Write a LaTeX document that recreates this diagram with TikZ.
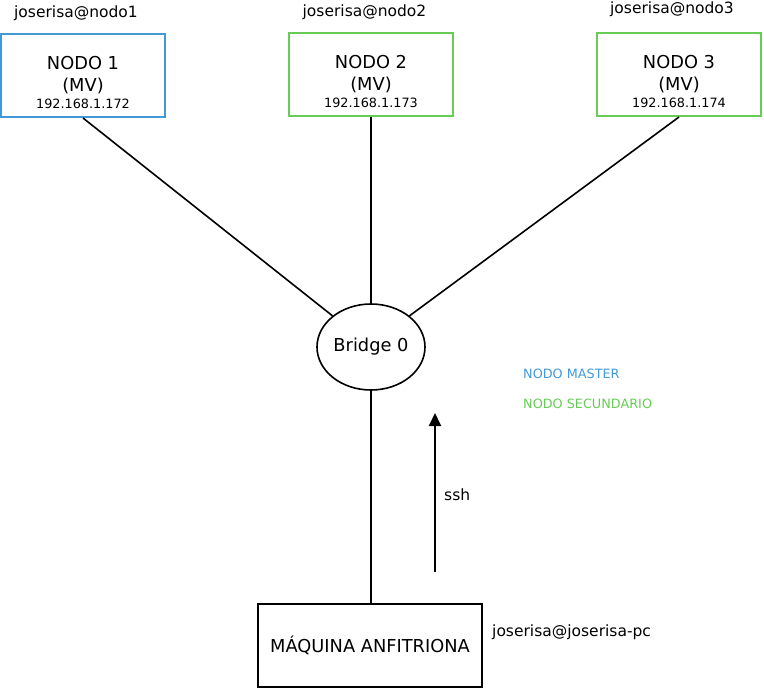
\documentclass[tikz,border=0pt]{standalone}
\usepackage{fontspec}
\setmainfont{DejaVu Sans}
\usetikzlibrary{arrows.meta,shapes.geometric}
\definecolor{mblue}{RGB}{66,153,214}
\definecolor{mgreen}{RGB}{102,204,85}
\begin{document}
\begin{tikzpicture}[x=1pt,y=-1pt,
  vmbox/.style={draw,line width=2pt,minimum width=164pt,minimum height=83pt,inner sep=0pt},
  big/.style={font=\fontsize{17.8}{20}\selectfont,inner sep=0pt},
  mid/.style={font=\fontsize{15.5}{18}\selectfont,inner sep=0pt},
  small/.style={font=\fontsize{12.8}{15}\selectfont,inner sep=0pt},
  link/.style={line width=1.6pt}]
\useasboundingbox (0,0) rectangle (764,689);
% VM boxes
\node[vmbox,draw=mblue] (n1) at (83,75.5) {};
\node[vmbox,draw=mgreen] (n2) at (371,74.5) {};
\node[vmbox,draw=mgreen] (n3) at (679,74.5) {};
\foreach \n/\x/\y/\ip in {1/83/75.5/172,2/371/74.5/173,3/679/74.5/174}{
  \node[big] (t\n a) at (\x,\y-12) {NODO \n};
  \node[big] (t\n b) at (\x,\y+10) {(MV)};
  \node[small] (t\n c) at (\x,\y+28) {192.168.1.\ip};
}
\node[mid] (l1) at (76,13) {joserisa@nodo1};
\node[mid] (l2) at (364.5,12) {joserisa@nodo2};
\node[mid] (l3) at (672,9) {joserisa@nodo3};
% bridge
\node[draw,ellipse,line width=1.6pt,minimum width=108pt,minimum height=86pt,inner sep=0pt,font=\fontsize{17.8}{20}\selectfont] (br) at (371,347) {Bridge 0};
% host
\node[draw,line width=2pt,minimum width=224pt,minimum height=83pt,inner sep=0pt,font=\fontsize{17.8}{20}\selectfont] (host) at (370,645.5) {MÁQUINA ANFITRIONA};
\node[mid,anchor=west] (hl) at (492,632) {joserisa@joserisa-pc};
% links
\draw[link] (n1.south) -- (br.141);
\draw[link] (n2.south) -- (br.north);
\draw[link] (n3.south) -- (br.39);
\draw[link] (br.south) -- (br.south |- host.north);
% ssh arrow
\coordinate (sa) at (435,572);
\coordinate (sb) at (435,413);
\draw[line width=2pt,-{Triangle[length=13pt,width=12pt]}] (sa) -- (sb);
\node[mid,anchor=west] (ssh) at (444,495) {ssh};
% legend
\node[small,anchor=west,text=mblue] (lg1) at (523,374) {NODO MASTER};
\node[small,anchor=west,text=mgreen] (lg2) at (523,404) {NODO SECUNDARIO};
\end{tikzpicture}
\end{document}
